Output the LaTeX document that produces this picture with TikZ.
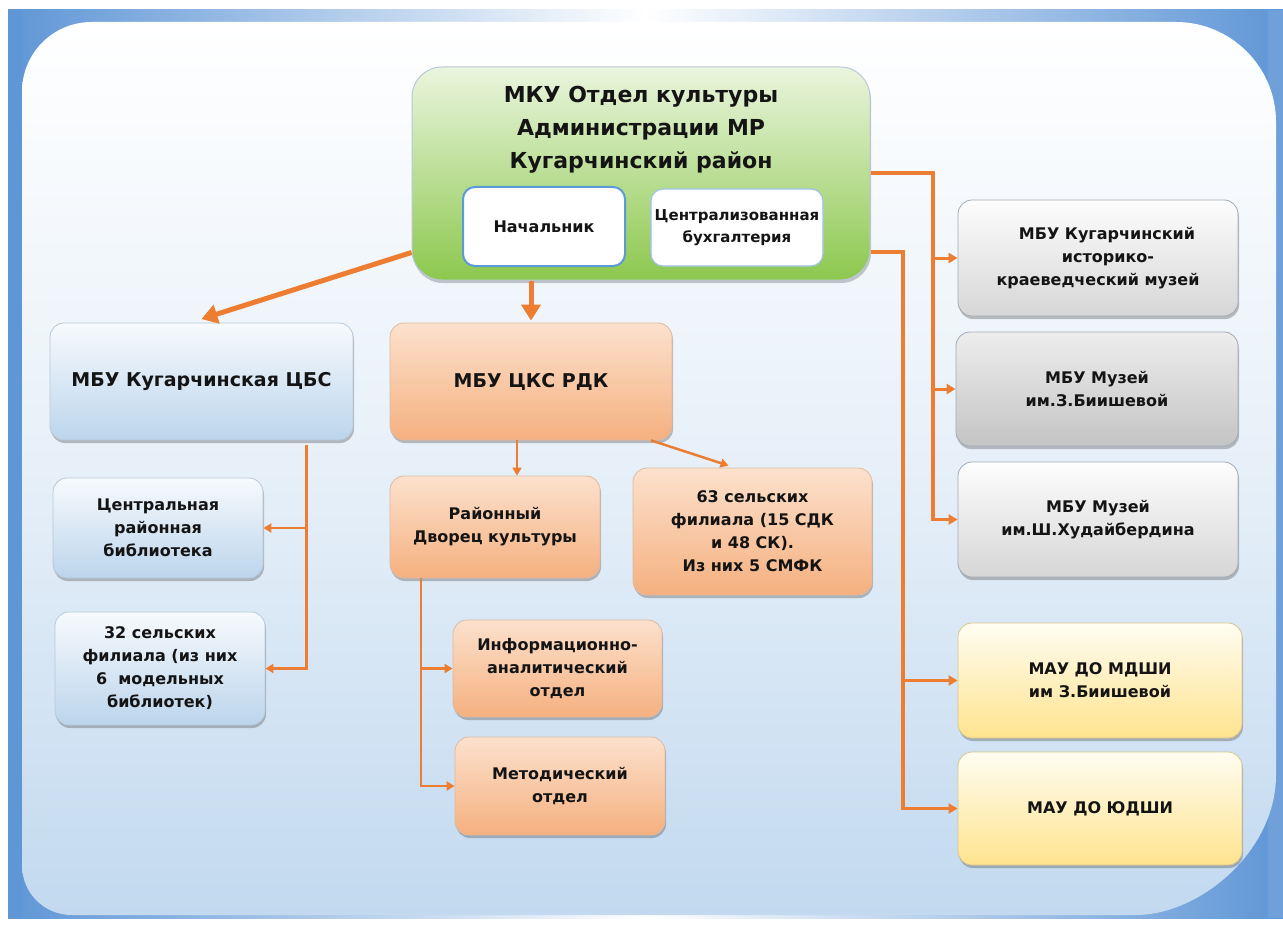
\documentclass[tikz,border=0pt]{standalone}
\usepackage{fontspec}
\setmainfont{DejaVu Sans}
\usetikzlibrary{shadows,arrows.meta,calc}
\definecolor{org}{HTML}{ED7D31}
\definecolor{frameblue}{HTML}{5F96D6}
\definecolor{panelbot}{HTML}{C2D9EF}
\definecolor{txt}{HTML}{141414}
\definecolor{greentop}{HTML}{EAF5DE}
\definecolor{greenbot}{HTML}{8CC84E}
\definecolor{bluetop}{HTML}{F7FAFD}
\definecolor{bluebot}{HTML}{BCD5EC}
\definecolor{orgtop}{HTML}{FCE1CD}
\definecolor{orgbot}{HTML}{F5B07F}
\definecolor{graytop}{HTML}{FDFDFD}
\definecolor{graybot}{HTML}{D6D6D6}
\definecolor{gray2top}{HTML}{EDEDED}
\definecolor{gray2bot}{HTML}{C4C4C4}
\definecolor{yeltop}{HTML}{FFFDF2}
\definecolor{yelbot}{HTML}{FFE38E}
\definecolor{bd}{HTML}{B8C8D8}
\definecolor{innerbd}{HTML}{5B9BD5}
\tikzset{
  bx/.style={rounded corners=14pt, inner sep=2pt, align=center, text=txt,
    line width=0.8pt,
    font=\fontsize{16}{23}\selectfont\bfseries,
    drop shadow={shadow xshift=1pt, shadow yshift=-3pt, opacity=.35, fill=black!70}},
  bluebox/.style={bx, draw=bd, top color=bluetop, bottom color=bluebot},
  orgbox/.style={bx, draw=orgbot!80!black!60, top color=orgtop, bottom color=orgbot},
  graybox/.style={bx, draw=bd!60!gray, top color=graytop, bottom color=graybot},
  gray2box/.style={bx, draw=bd!60!gray, top color=gray2top, bottom color=gray2bot},
  yelbox/.style={bx, draw=yelbot!70!gray, top color=yeltop, bottom color=yelbot},
  innerbox/.style={rounded corners=12pt, fill=white, draw=innerbd, line width=2pt,
    align=center, text=txt, inner sep=1pt, font=\fontsize{16}{23}\selectfont\bfseries},
  bigarrow/.style={draw=org, line width=5pt, -{Triangle[length=16pt,width=19pt]}},
  bus/.style={draw=org, line width=4pt},
  branch/.style={draw=org, line width=3pt, -{Triangle[length=9pt,width=10pt]}},
  thinbus/.style={draw=org, line width=2.5pt},
  thinbranch/.style={draw=org, line width=2.5pt, -{Triangle[length=8pt,width=9pt]}}
}
\begin{document}
\begin{tikzpicture}[x=1pt,y=-1pt]
\useasboundingbox (0,0) rectangle (1283,931);
\fill[white] (0,0) rectangle (1283,931);
% frame
\shade[left color=frameblue, right color=frameblue, middle color=white] (8,10) rectangle (1283,918);
\fill[frameblue] (8,10) rectangle (22,918);
\fill[frameblue!90] (1268,10) rectangle (1283,918);
% panel
\shade[top color=white, bottom color=panelbot, middle color=white!60!panelbot]
  (92,22) -- (1176,22) .. controls (1231,22) and (1276,67) .. (1276,122)
  -- (1276,775) .. controls (1276,852) and (1199,915) .. (1136,915)
  -- (72,915) .. controls (44,915) and (22,893) .. (22,865)
  -- (22,92) .. controls (22,53) and (53,22) .. (92,22) -- cycle;

% top node
\node[rounded corners=30pt, draw=bd, line width=1pt, top color=greentop, bottom color=greenbot,
  minimum width=458, minimum height=213, inner sep=0pt,
  drop shadow={shadow xshift=1pt, shadow yshift=-3pt, opacity=.3, fill=black!70}] (top) at (641,173.5) {};
\node[align=center, text=txt, font=\fontsize{22}{33}\selectfont\bfseries] (toptext) at (641,130)
  {МКУ Отдел культуры\\Администрации МР\\Кугарчинский район};
\node[innerbox, minimum width=162, minimum height=79] (chief) at (544,226.5) {Начальник};
\node[innerbox, draw=innerbd!60, line width=1.2pt, minimum width=172, minimum height=77,
  font=\fontsize{15}{22}\selectfont\bfseries] (buh) at (737,227.5) {Централизованная\\бухгалтерия};

% left column
\node[bluebox, minimum width=303, minimum height=117, font=\fontsize{19}{26}\selectfont\bfseries] (cbs) at (201.5,381.5) {МБУ Кугарчинская ЦБС};
\node[bluebox, minimum width=210, minimum height=100] (crb) at (158,528) {Центральная\\районная\\библиотека};
\node[bluebox, minimum width=210, minimum height=113] (s32) at (160,668.5) {32 сельских\\филиала (из них\\6 \ модельных\\библиотек)};

% middle column
\node[orgbox, minimum width=282, minimum height=117, font=\fontsize{19}{26}\selectfont\bfseries] (cks) at (531,381.5) {\raisebox{3pt}{МБУ ЦКС РДК}};
\node[orgbox, minimum width=210, minimum height=102] (rdk) at (495,527) {Районный\\Дворец культуры};
\node[orgbox, minimum width=239, minimum height=127] (s63) at (752.5,531.5) {63 сельских\\филиала (15 СДК\\и 48 СК).\\Из них 5 СМФК};
\node[orgbox, minimum width=209, minimum height=97] (iao) at (557.5,668.5) {Информационно-\\аналитический\\отдел};
\node[orgbox, minimum width=210, minimum height=98] (met) at (560,786) {Методический\\отдел};

% right column
\node[graybox, minimum width=280, minimum height=116] (m1) at (1098,258) {\hspace*{18pt}МБУ Кугарчинский\\\hspace*{20pt}историко-\\краеведческий музей};
\node[gray2box, minimum width=282, minimum height=114] (m2) at (1097,389) {МБУ Музей\\им.З.Биишевой};
\node[graybox, minimum width=280, minimum height=115] (m3) at (1098,519.5) {МБУ Музей\\им.Ш.Худайбердина};
\node[yelbox, minimum width=284, minimum height=115] (dsh1) at (1100,680.5) {МАУ ДО МДШИ\\им З.Биишевой};
\node[yelbox, minimum width=284, minimum height=113] (dsh2) at (1100,808.5) {МАУ ДО ЮДШИ};

% connectors from top
\draw[bigarrow, shorten >=2pt] ([yshift=28pt]top.south west) -- ([xshift=-2pt,yshift=3pt]cbs.north);
\draw[bigarrow, shorten >=2pt] (top.south -| cks.north) -- (cks.north);

\draw[bus] (top.east) -- ++(62,0) coordinate (b1) -- (b1 |- m3.west);
\draw[branch] (b1 |- m1.west) -- (m1.west);
\draw[branch] (b1 |- m2.west) -- (m2.west);
\draw[branch] ([xshift=-2pt]b1 |- m3.west) -- (m3.west);

\draw[bus] ([yshift=-78pt]top.east) -- ++(32,0) coordinate (b2) -- (b2 |- dsh2.west);
\draw[branch] (b2 |- dsh1.west) -- (dsh1.west);
\draw[branch] ([xshift=-2pt]b2 |- dsh2.west) -- (dsh2.west);

% ЦБС
\draw[thinbus] ([xshift=105pt,yshift=-5pt]cbs.south) coordinate (b3) -- (b3 |- s32.east);
\draw[thinbranch] (b3 |- crb.east) -- (crb.east);
\draw[thinbranch] ([xshift=1pt]b3 |- s32.east) -- (s32.east);

% ЦКС
\draw[thinbranch] ([xshift=-14pt]cks.south) -- ([xshift=22pt]rdk.north);
\draw[thinbranch] ([xshift=120pt]cks.south) -- ([xshift=-24pt,yshift=2pt]s63.north);

% РДК
\draw[thinbus] ([xshift=-74pt]rdk.south) coordinate (b4) -- (b4 |- met.west);
\draw[thinbranch] (b4 |- iao.west) -- (iao.west);
\draw[thinbranch] ([xshift=-1pt]b4 |- met.west) -- (met.west);
\end{tikzpicture}
\end{document}
